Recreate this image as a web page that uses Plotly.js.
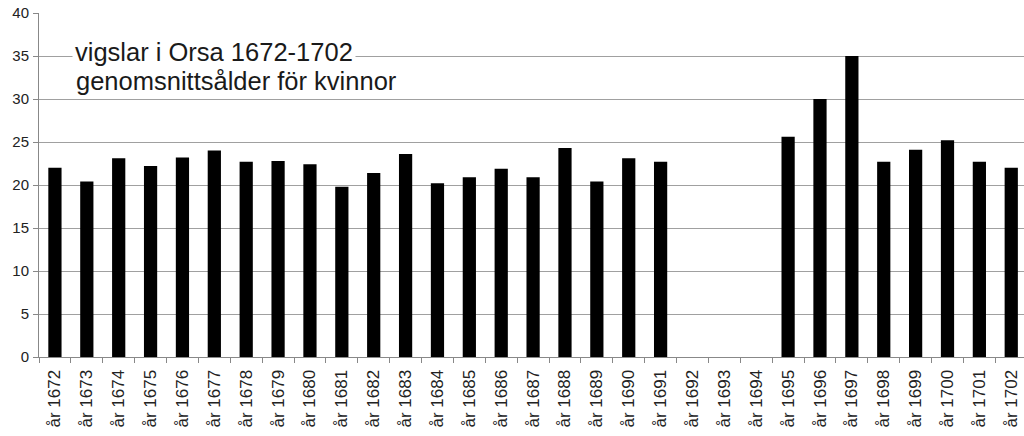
<!DOCTYPE html>
<html>
<head>
<meta charset="utf-8">
<script src="https://cdn.plot.ly/plotly-3.0.1.min.js"></script>
<style>html,body{margin:0;padding:0;background:#fff;overflow:hidden}#chart{width:1024px;height:436px}</style>
</head>
<body>
<div id="chart"></div>
<script>
const years = ["år 1672","år 1673","år 1674","år 1675","år 1676","år 1677","år 1678","år 1679","år 1680","år 1681",
  "år 1682","år 1683","år 1684","år 1685","år 1686","år 1687","år 1688","år 1689","år 1690","år 1691",
  "år 1692","år 1693","år 1694","år 1695","år 1696","år 1697","år 1698","år 1699","år 1700","år 1701","år 1702"];
const meanAge = [22.0,20.4,23.1,22.2,23.2,24.0,22.7,22.8,22.4,19.8,
  21.4,23.6,20.2,20.9,21.9,20.9,24.3,20.4,23.1,22.7,
  null,null,null,25.6,30.0,35.0,22.7,24.1,25.2,22.7,22.0];
const yTicks = [0,5,10,15,20,25,30,35,40];
const titleLine1 = "vigslar i Orsa 1672-1702";
const titleLine2 = "genomsnittsålder för kvinnor";

const font = "Liberation Sans, Arial, sans-serif";
const trace = {
  type: "bar",
  x: years,
  y: meanAge,
  marker: {color: "#000000", line: {width: 0}},
  hoverinfo: "x+y"
};
const layout = {
  width: 1024, height: 436,
  margin: {l: 39, r: 0, t: 13, b: 79, pad: 0},
  paper_bgcolor: "#ffffff", plot_bgcolor: "#ffffff",
  showlegend: false,
  bargap: 0.585,
  font: {family: font, color: "#222"},
  xaxis: {
    type: "category",
    range: [-0.5, 30.4],
    tickson: "boundaries",
    ticks: "outside", ticklen: 5, tickcolor: "#888", tickwidth: 1,
    tickangle: -90,
    ticklabelstandoff: 5,
    tickfont: {family: font, size: 17, color: "#222"},
    showline: true, linecolor: "#888", linewidth: 1,
    showgrid: false, zeroline: false, fixedrange: true
  },
  yaxis: {
    range: [0, 40],
    tickvals: yTicks,
    ticks: "outside", ticklen: 5, tickcolor: "#888", tickwidth: 1,
    ticklabelstandoff: 1,
    tickfont: {family: font, size: 15, color: "#222"},
    showline: true, linecolor: "#888", linewidth: 1,
    showgrid: true, gridcolor: "#a0a0a0", gridwidth: 1,
    zeroline: false, fixedrange: true
  },
  annotations: [
    {text: titleLine1, xref: "paper", yref: "y", x: 0.034, y: 35.5, xanchor: "left", yanchor: "middle",
     showarrow: false, bgcolor: "#ffffff", borderpad: 2, font: {family: font, size: 25.5, color: "#1a1a1a"}},
    {text: titleLine2, xref: "paper", yref: "y", x: 0.036, y: 32.1, xanchor: "left", yanchor: "middle",
     showarrow: false, font: {family: font, size: 25.5, color: "#1a1a1a"}}
  ]
};
Plotly.newPlot("chart", [trace], layout, {displayModeBar: false, staticPlot: true});
</script>
</body>
</html>
